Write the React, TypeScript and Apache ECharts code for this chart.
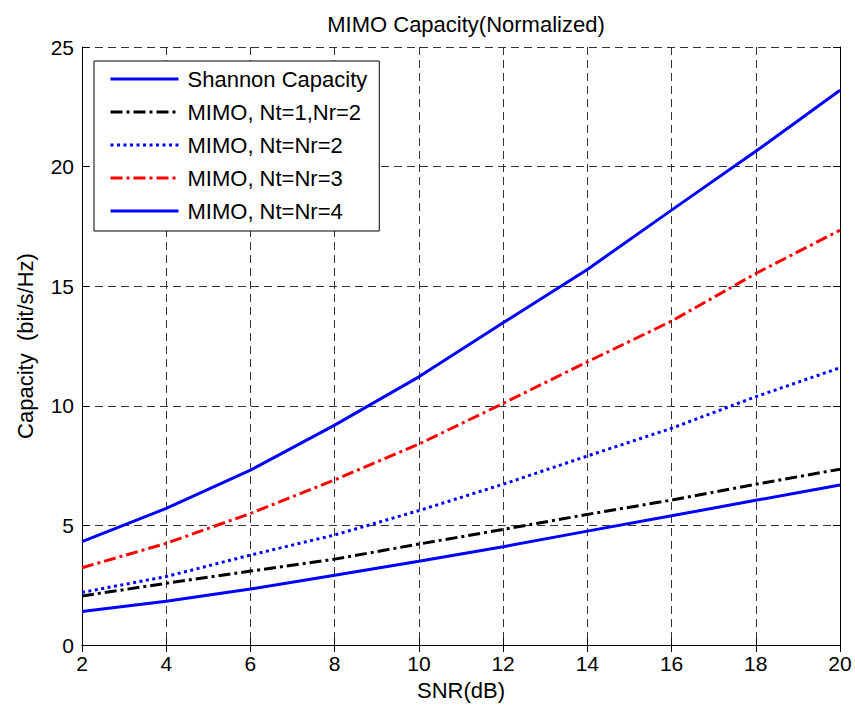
import React, { useEffect, useRef } from "react";
import * as echarts from "echarts";

const snr = [2, 4, 6, 8, 10, 12, 14, 16, 18, 20];
const shannon = [1.4, 1.83, 2.34, 2.92, 3.5, 4.11, 4.76, 5.4, 6.05, 6.69];
const mimo12 = [2.05, 2.58, 3.09, 3.59, 4.22, 4.83, 5.46, 6.06, 6.72, 7.35];
const mimo22 = [2.2, 2.86, 3.76, 4.6, 5.62, 6.72, 7.9, 9.06, 10.38, 11.59];
const mimo33 = [3.23, 4.25, 5.5, 6.9, 8.4, 10.1, 11.84, 13.54, 15.53, 17.34];
const mimo44 = [4.32, 5.71, 7.31, 9.19, 11.21, 13.47, 15.7, 18.18, 20.64, 23.19];
const seriesNames = [
  "Shannon Capacity",
  "MIMO, Nt=1,Nr=2",
  "MIMO, Nt=Nr=2",
  "MIMO, Nt=Nr=3",
  "MIMO, Nt=Nr=4",
];

const FONT = "'Liberation Sans', Arial, Helvetica, sans-serif";

export default function App() {
  const ref = useRef<HTMLDivElement>(null);
  useEffect(() => {
    if (!ref.current) return;
    const chart = echarts.init(ref.current, undefined, { renderer: "svg" });
    const pair = (ys: number[]) => snr.map((x, i) => [x, ys[i]]);
    const styles = [
      { color: "#0000ff", type: "solid" as any },
      { color: "#000000", type: [12, 4, 3, 4] },
      { color: "#0000ff", type: [3, 3.5] },
      { color: "#ff0000", type: [12, 4, 3, 4] },
      { color: "#0000ff", type: "solid" as any },
    ];
    const datas = [shannon, mimo12, mimo22, mimo33, mimo44];
    const gridLine = { show: true, lineStyle: { color: "#333", width: 1, type: [8, 5] } };
    const axisLine = { show: true, lineStyle: { color: "#000", width: 1 } };
    const tick = { show: true, inside: true, length: 7, lineStyle: { color: "#000" } };
    chart.setOption({
      animation: false,
      backgroundColor: "#fff",
      title: {
        text: "MIMO Capacity(Normalized)",
        left: 461,
        top: 8,
        textAlign: "center",
        textStyle: { fontFamily: FONT, fontSize: 22, fontWeight: "normal", color: "#000" },
      },
      grid: { left: 82, right: 15, top: 47, bottom: 62 },
      legend: {
        orient: "vertical",
        left: 94,
        top: 61,
        data: seriesNames,
        backgroundColor: "#fff",
        borderColor: "#000",
        borderWidth: 1,
        padding: [7, 12, 9, 15],
        itemGap: 11,
        itemWidth: 68,
        itemHeight: 14,
        itemStyle: { opacity: 0 },
        lineStyle: { width: 3 },
        textStyle: { fontFamily: FONT, fontSize: 22, color: "#000", padding: [0, 0, 0, 4] },
      },
      xAxis: [
        {
          type: "value",
          min: 2,
          max: 20,
          interval: 2,
          name: "SNR(dB)",
          nameLocation: "middle",
          nameGap: 34,
          nameTextStyle: { fontFamily: FONT, fontSize: 22, color: "#000" },
          axisLine,
          axisTick: tick,
          axisLabel: { fontFamily: FONT, fontSize: 21, color: "#000", margin: 8 },
          splitLine: gridLine,
        },
        {
          type: "value",
          position: "top",
          min: 2,
          max: 20,
          interval: 2,
          axisLine,
          axisTick: tick,
          axisLabel: { show: false },
          splitLine: { show: false },
        },
      ],
      yAxis: [
        {
          type: "value",
          min: 0,
          max: 25,
          interval: 5,
          name: "Capacity  (bit/s/Hz)",
          nameLocation: "middle",
          nameGap: 46,
          nameTextStyle: { fontFamily: FONT, fontSize: 22, color: "#000" },
          axisLine,
          axisTick: tick,
          axisLabel: { fontFamily: FONT, fontSize: 21, color: "#000", margin: 8 },
          splitLine: gridLine,
        },
        {
          type: "value",
          position: "right",
          min: 0,
          max: 25,
          interval: 5,
          axisLine,
          axisTick: tick,
          axisLabel: { show: false },
          splitLine: { show: false },
        },
      ],
      series: seriesNames.map((name, i) => ({
        name,
        type: "line",
        data: pair(datas[i]),
        symbol: "none",
        showSymbol: false,
        color: styles[i].color,
        lineStyle: { color: styles[i].color, width: 3, type: styles[i].type },
        z: 3,
      })),
    });
    return () => chart.dispose();
  }, []);
  return <div ref={ref} style={{ width: 855, height: 707, position: "absolute", left: 0, top: 0 }} />;
}
